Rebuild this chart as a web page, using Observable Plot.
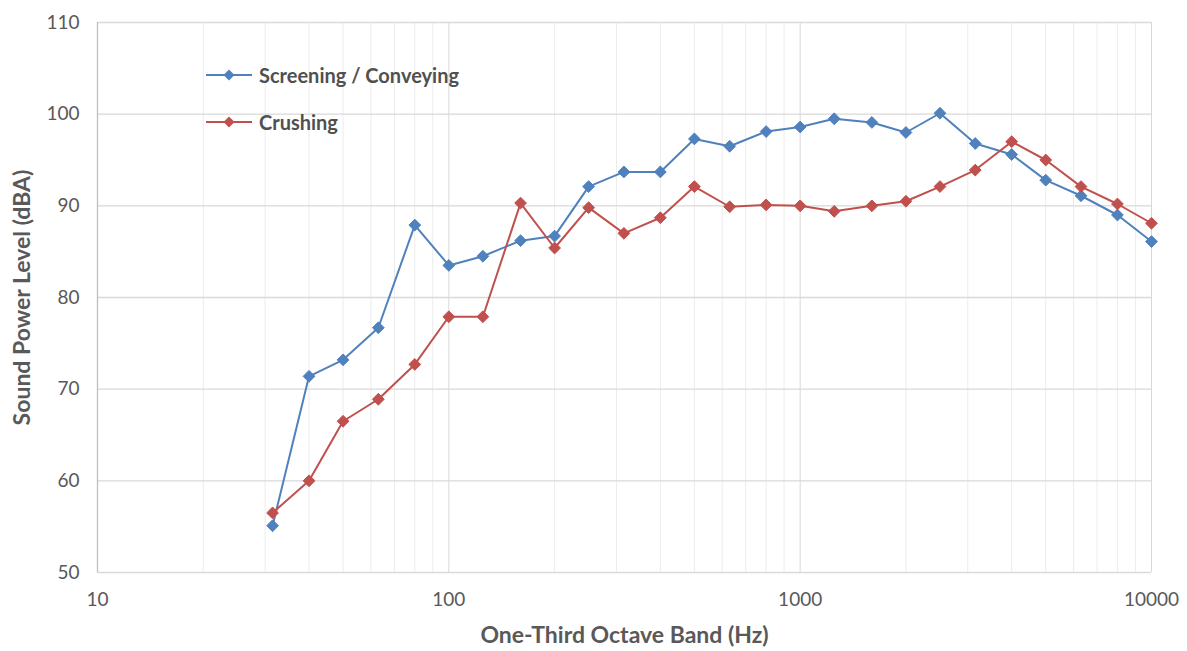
<!DOCTYPE html>
<html><head><meta charset="utf-8">
<script src="https://cdn.jsdelivr.net/npm/d3@7"></script>
<script src="https://cdn.jsdelivr.net/npm/@observablehq/plot@0.6"></script>
<style>
body{margin:0;background:#fff;font-family:Lato,"Open Sans",sans-serif;}
#wrap{position:relative;width:1187px;height:651px;}
#legend{position:absolute;left:206px;top:51px;font-size:20px;font-weight:700;color:#505050;}
#legend .row{display:flex;align-items:center;height:47px;}
#legend svg{margin-right:5px;}
</style></head>
<body><div id="wrap"><div id="legend"></div></div>
<script>
const freqs = [31.5,40,50,63,80,100,125,160,200,250,315,400,500,630,800,1000,1250,1600,2000,2500,3150,4000,5000,6300,8000,10000];
const screening = [55.1,71.4,73.2,76.7,87.9,83.5,84.5,86.2,86.7,92.1,93.7,93.7,97.3,96.5,98.1,98.6,99.5,99.1,98.0,100.1,96.8,95.6,92.8,91.1,89.0,86.1];
const crushing = [56.5,60.0,66.5,68.9,72.7,77.9,77.9,90.3,85.4,89.8,87.0,88.7,92.1,89.9,90.1,90.0,89.4,90.0,90.5,92.1,93.9,97.0,95.0,92.1,90.2,88.1];
const seriesNames = ["Screening / Conveying","Crushing"];
const seriesColors = ["#4f81bd","#c0504d"];
const xMajor = [10,100,1000,10000];
const xMinor = [20,30,40,50,60,70,80,90,200,300,400,500,600,700,800,900,2000,3000,4000,5000,6000,7000,8000,9000];
const yTicks = [50,60,70,80,90,100,110];

const data = [];
[screening, crushing].forEach((vals, i) => vals.forEach((v, j) => data.push({series: seriesNames[i], f: freqs[j], v})));

const chart = Plot.plot({
  width: 1187, height: 651,
  marginLeft: 97, marginRight: 36, marginTop: 22, marginBottom: 79,
  style: {fontFamily: "Lato, 'Open Sans', sans-serif", fontSize: "19px", color: "#595959", background: "#fff"},
  x: {type: "log", domain: [10, 10000]},
  y: {domain: [50, 110]},
  color: {domain: seriesNames, range: seriesColors},
  marks: [
    Plot.ruleX(xMinor, {stroke: "#ececec", strokeWidth: 1}),
    Plot.ruleX(xMajor, {stroke: "#d9d9d9", strokeWidth: 1}),
    Plot.ruleY(yTicks, {stroke: "#d9d9d9", strokeWidth: 1.3}),
    Plot.ruleX([10], {stroke: "#bfbfbf", strokeWidth: 1.3}),
    Plot.axisX({ticks: xMajor, tickFormat: d => String(d), tickSize: 0, tickPadding: 20,
      label: "One-Third Octave Band (Hz)", labelAnchor: "center", labelArrow: "none", labelOffset: 70}),
    Plot.axisY({ticks: yTicks, tickSize: 0, tickPadding: 18,
      label: "Sound Power Level (dBA)", labelAnchor: "center", labelArrow: "none", labelOffset: 84}),
    Plot.line(data, {x: "f", y: "v", stroke: "series", strokeWidth: 2}),
    Plot.dot(data, {x: "f", y: "v", fill: "series", symbol: "diamond2", r: 5.3, stroke: "series", strokeWidth: 1})
  ]
});
chart.querySelectorAll('[aria-label="x-axis label"] text, [aria-label="y-axis label"] text').forEach(t => {
  t.style.fontWeight = "700";
  t.style.fontSize = "23px";
});
document.getElementById("wrap").prepend(chart);

const legend = document.getElementById("legend");
seriesNames.forEach((name, i) => {
  const row = document.createElement("div");
  row.className = "row";
  row.innerHTML = `<svg width="48" height="14"><line x1="0" x2="46" y1="7" y2="7" stroke="${seriesColors[i]}" stroke-width="2"/><path d="M23,1.5 L28.5,7 L23,12.5 L17.5,7 Z" fill="${seriesColors[i]}"/></svg><span>${name}</span>`;
  legend.appendChild(row);
});
</script></body></html>
